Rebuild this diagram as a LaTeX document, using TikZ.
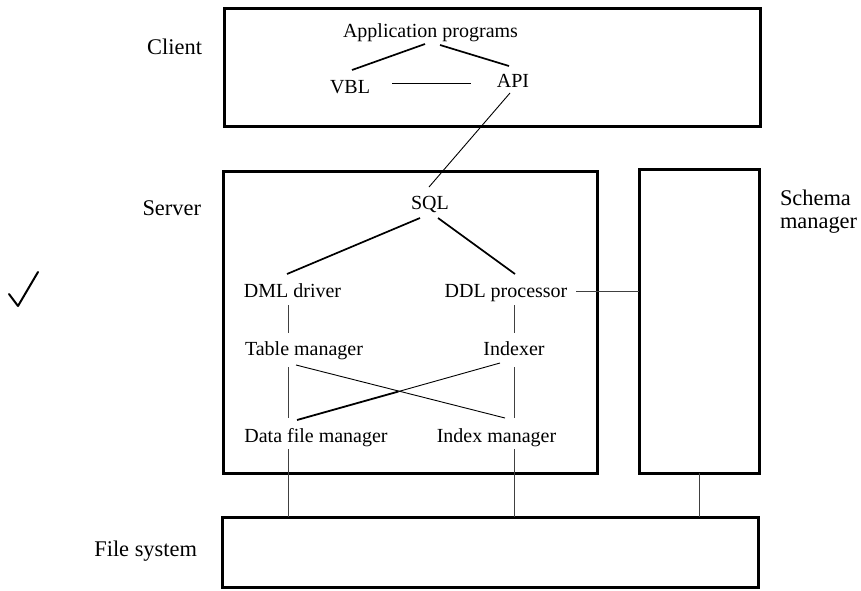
\documentclass[tikz,border=0pt]{standalone}
\usepackage{fontspec}
\setmainfont{Liberation Serif}
\begin{document}
\begin{tikzpicture}[x=0.5pt,y=-0.5pt,
  box/.style={draw,line width=1.5pt,inner sep=0pt,outer sep=0pt},
  txt/.style={inner sep=0pt,outer sep=0pt,anchor=base,font=\fontsize{10}{12}\selectfont},
  lbl/.style={inner sep=0pt,outer sep=0pt,font=\fontsize{11.2}{11.5}\selectfont},
  conn/.style={line width=0.85pt},
  thinconn/.style={line width=0.45pt},
  vconn/.style={line width=0.4pt,black!75}]
\useasboundingbox (0,0) rectangle (861,590);

% boxes
\node[box,minimum width=268pt,minimum height=59pt] (client) at (492,67) {};
\node[box,minimum width=187pt,minimum height=151pt] (server) at (410,322) {};
\node[box,minimum width=60pt,minimum height=152pt] (schema) at (699,321) {};
\node[box,minimum width=268pt,minimum height=35pt] (fs) at (490,552) {};

% side labels
\node[lbl,anchor=base east] (clientl) at (202,54) {Client};
\node[lbl,anchor=base east] (serverl) at (201,215) {Server};
\node[lbl,anchor=base east] (fsl) at (197,556) {File system};
\node[lbl,anchor=north west,align=left] (schemal) at (780,190) {Schema\\manager};

% inner texts
\node[txt] (app) at (430.5,37) {Application programs};
\node[txt] (vbl) at (350,93) {VBL};
\node[txt] (api) at (513,87) {API};
\node[txt] (sql) at (430,209) {SQL};
\node[txt] (dml) at (292.5,297) {DML driver};
\node[txt] (ddl) at (506,297) {DDL processor};
\node[txt] (tbl) at (304,355) {Table manager};
\node[txt] (idx) at (514,355) {Indexer};
\node[txt] (dfm) at (316,442) {Data file manager};
\node[txt] (ixm) at (496.5,442) {Index manager};

% client connectors
\draw[conn] ([shift={(-5.5,7)}]app.base) -- ([shift={(2,-23)}]vbl.base);
\draw[conn] ([shift={(9.5,8)}]app.base) -- ([shift={(-4,-21)}]api.base);
\draw[thinconn] ([shift={(42,-10)}]vbl.base) -- ([shift={(-42,-4)}]api.base);
\draw[thinconn] ([shift={(-3,6)}]api.base) -- ([shift={(-1,-22)}]sql.base);

% server connectors
\draw[conn] ([shift={(-10,9)}]sql.base) -- ([shift={(-5.5,-23)}]dml.base);
\draw[conn] ([shift={(8,9)}]sql.base) -- ([shift={(9,-23)}]ddl.base);
\draw[vconn] ([shift={(-4.5,8)}]dml.base) -- ([shift={(-16,-22)}]tbl.base);
\draw[vconn] ([shift={(8,8)}]ddl.base) -- ([shift={(0,-22)}]idx.base);
\draw[vconn] ([shift={(-16,12)}]tbl.base) -- ([shift={(-28,-24)}]dfm.base);
\draw[vconn] ([shift={(0,12)}]idx.base) -- ([shift={(17.5,-24)}]ixm.base);
\draw[thinconn] ([shift={(-8,10)}]tbl.base) -- ([shift={(8.5,-24)}]ixm.base);
\path ([shift={(-14,8)}]idx.base) coordinate (crossA)
      -- ([shift={(-19,-22)}]dfm.base) coordinate (crossB)
      coordinate[pos=0.5] (crossM);
\draw[thinconn] (crossA) -- (crossM);
\draw[line width=0.9pt] (crossM) -- (crossB);

% DDL to schema manager
\coordinate (ddlend) at ([shift={(70,-6)}]ddl.base);
\draw[vconn] (ddlend) -- (ddlend -| schema.west);

% to file system
\coordinate (dfmend) at ([shift={(-28,7)}]dfm.base);
\coordinate (ixmend) at ([shift={(17.5,7)}]ixm.base);
\draw[vconn] (dfmend) -- (dfmend |- fs.north);
\draw[vconn] (ixmend) -- (ixmend |- fs.north);
\draw[vconn] (schema.south) -- (schema.south |- fs.north);

% check mark
\draw[line width=1pt,line cap=round,line join=round] (9,294) -- (18,306) -- (38,272);
\end{tikzpicture}
\end{document}
